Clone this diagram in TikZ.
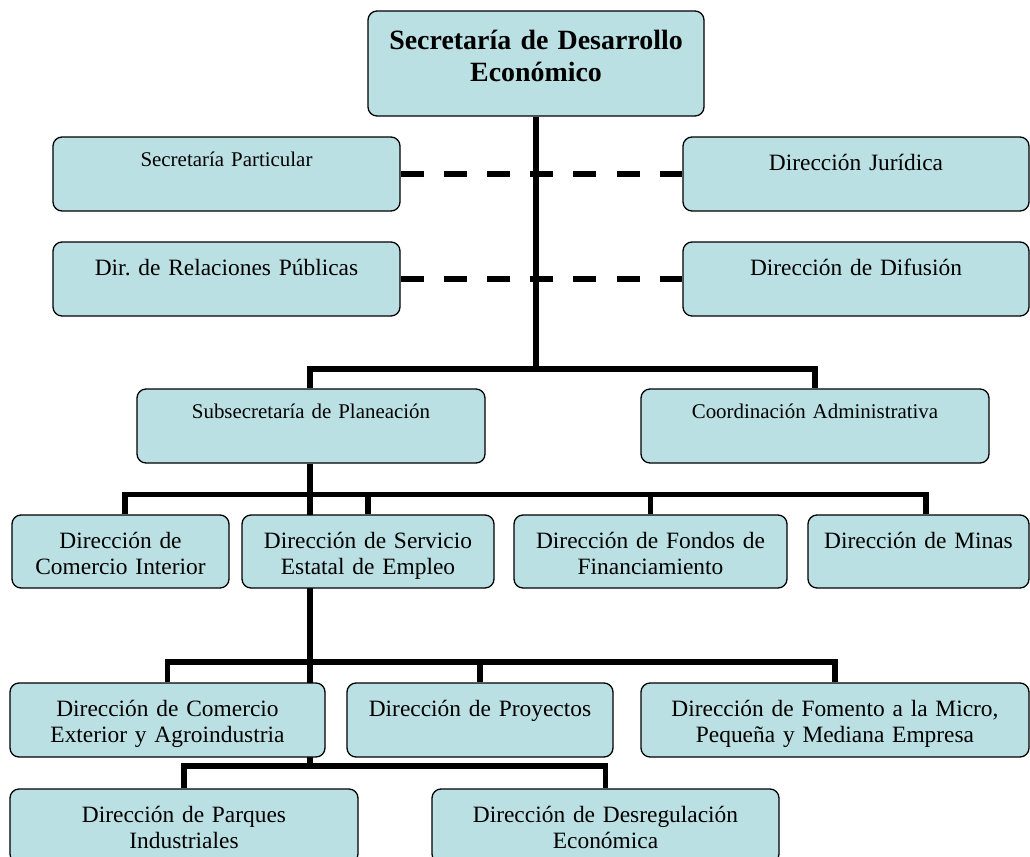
\documentclass[tikz,border=0pt]{standalone}
\usepackage{fontspec}
\setmainfont{Liberation Serif}
\usetikzlibrary{backgrounds}
\frenchspacing

\definecolor{unitfill}{RGB}{187,224,227}
\newcommand\unitfont{\fontsize{23.5}{26.5}\selectfont}
\newcommand\smallunitfont{\fontsize{21}{24}\selectfont}
\newcommand\headfont{\fontsize{28}{33}\selectfont\bfseries}

\tikzset{
  unit/.style={draw, line width=1.3bp, rounded corners=9bp, fill=unitfill, align=center,
    inner xsep=4bp, inner ysep=0bp, font=\unitfont, text height=33.5bp, text depth=40.5bp},
  small unit/.style={unit, font=\smallunitfont, text height=29bp, text depth=45bp},
  head/.style={unit, font=\headfont, text height=38bp, text depth=67bp},
  link/.style={line width=5.5bp, line join=miter},
  staff/.style={line width=6bp, dash pattern=on 23bp off 20.2bp},
}

\begin{document}
\begin{tikzpicture}[x=1bp, y=-1bp]
%%
  \useasboundingbox (0,0) rectangle (1030,857);
  \node (sde) at (536,63.5) [head, text width=328bp] {Secretaría de Desarrollo\\Económico};
  \node (spart) at (226.5,174) [small unit, text width=339bp] {Secretaría Particular};
  \node (djur) at (856,174) [unit, text width=338bp] {Dirección Jurídica};
  \node (drp) at (226.5,279) [unit, text width=339bp] {Dir. de Relaciones Públicas};
  \node (ddif) at (856,279) [unit, text width=338bp] {Dirección de Difusión};
  \node (ssp) at (311,426) [small unit, text width=340bp] {Subsecretaría de Planeación};
  \node (cadm) at (815,426) [small unit, text width=340bp] {Coordinación Administrativa};
  \node (dci) at (120.5,551.5) [unit, text width=209bp, text depth=39.5bp] {Dirección de\\Comercio Interior};
  \node (dsee) at (368,551.5) [unit, text width=244bp, text depth=39.5bp] {Dirección de Servicio\\Estatal de Empleo};
  \node (dff) at (650.5,551.5) [unit, text width=265bp, text depth=39.5bp] {Dirección de Fondos de\\Financiamiento};
  \node (dmin) at (918.5,551.5) [unit, text width=213bp, text depth=39.5bp] {Dirección de Minas};
  \node (dcea) at (167.5,720) [unit, text width=307bp] {Dirección de Comercio\\Exterior y Agroindustria};
  \node (dpro) at (480,720) [unit, text width=258bp] {Dirección de Proyectos};
  \node (dfom) at (835,720) [unit, text width=380bp] {Dirección de Fomento a la Micro,\\Pequeña y Mediana Empresa};
  \node (dpi) at (184,826) [unit, text width=340bp] {Dirección de Parques\\Industriales};
  \node (ddes) at (605.5,826) [unit, text width=339bp] {Dirección de Desregulación\\Económica};
%
  \coordinate (j1) at (536,369);
  \coordinate (j2) at (310,494.5);
  \coordinate (j3) at (310,662);
  \coordinate (j4) at (310,766);
  \begin{scope}[on background layer]
    \draw [staff] (spart) -- (djur);
    \draw [staff] (drp) -- (ddif);
    \draw [link] (sde) -- (j1);
    \draw [link] ([xshift=-1bp]ssp.north) |- (j1) -| (cadm);
    \draw [link] ([xshift=-1bp]ssp.south) -- (j4);
    \draw [link] ([xshift=4.5bp]dci.north) |- (j2) -| ([xshift=7.5bp]dmin.north);
    \draw [link] (dsee) |- (j2);
    \draw [link] (dff) |- (j2);
    \draw [link] (dcea) |- (j3) -| (dfom);
    \draw [link] (dpro) |- (j3);
    \draw [link] (dpi) |- (j4) -| (ddes);
  \end{scope}
%
\end{tikzpicture}
\end{document}
